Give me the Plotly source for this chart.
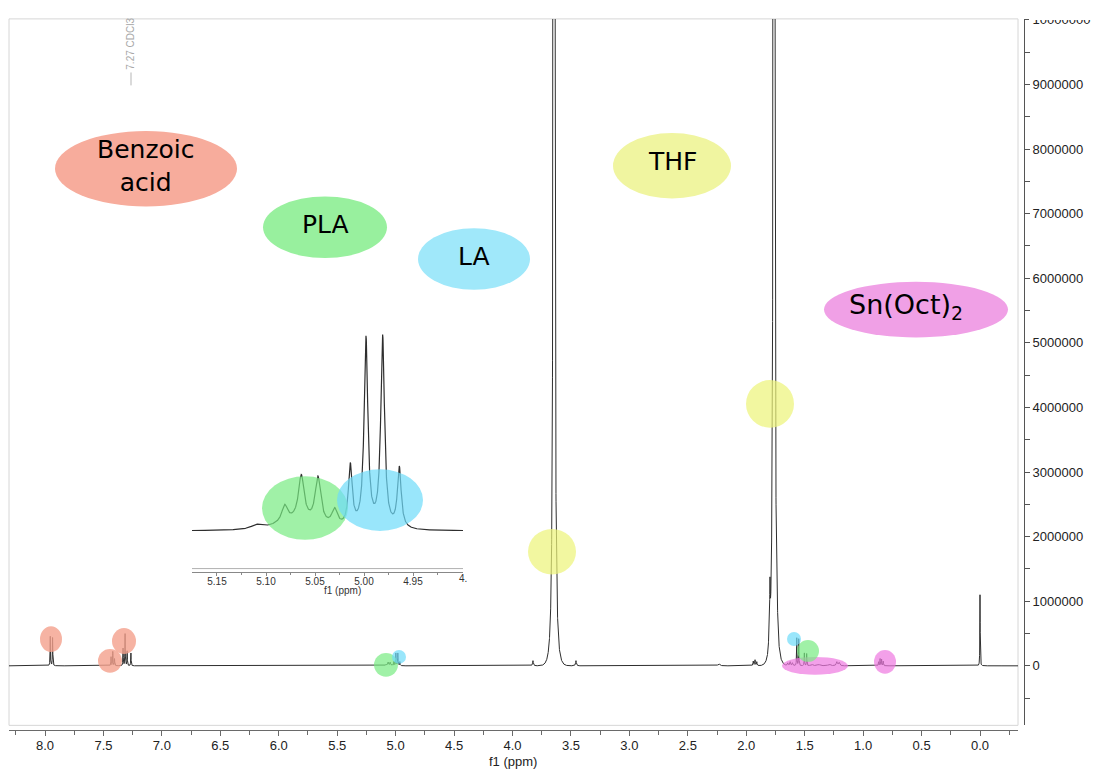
import numpy as np
import plotly.graph_objects as go

# ---------------- data ----------------
# peak centre (ppm), peak height (intensity units), half width at half height (ppm)
peak_ppm = [7.955, 7.935, 7.435, 7.420, 7.405, 7.332, 7.315, 7.297, 7.265,
            5.081, 5.064, 5.047, 5.030, 5.070, 5.110,
            5.014, 4.998, 4.981, 4.964,
            3.825, 3.645, 3.457,
            2.235, 1.940, 1.925, 1.910,
            1.805, 1.797, 1.763, 1.737,
            1.645, 1.625, 1.605, 1.568, 1.551, 1.503, 1.483,
            1.440, 1.380, 1.290, 1.225, 1.205,
            0.868, 0.855, 0.842, 0.828,
            0.000]
peak_height = [460000, 440000, 140000, 220000, 110000, 270000, 500000, 230000, 200000,
               17000, 46000, 48000, 17000, 9000, 4000,
               63000, 194000, 196000, 62000,
               80000, 40000000, 80000,
               30000, 70000, 90000, 60000,
               200000, 750000, 40000000, 550000,
               40000, 60000, 45000, 430000, 420000, 200000, 190000,
               25000, 20000, 25000, 60000, 50000,
               60000, 110000, 100000, 70000,
               1100000]
peak_hwhm = [0.0018, 0.0018, 0.0018, 0.0018, 0.0018, 0.0018, 0.0018, 0.0018, 0.0018,
             0.0035, 0.0035, 0.0035, 0.0035, 0.028, 0.006,
             0.0023, 0.0023, 0.0023, 0.0023,
             0.004, 0.0047, 0.004,
             0.01, 0.003, 0.003, 0.003,
             0.004, 0.0028, 0.0047, 0.0028,
             0.004, 0.004, 0.004, 0.0018, 0.0018, 0.0018, 0.0018,
             0.01, 0.015, 0.012, 0.006, 0.006,
             0.002, 0.002, 0.002, 0.002,
             0.0015]
ENVELOPE = 0.068  # gaussian damping of the line tails (ppm)

x_tick_vals = [8.0, 7.5, 7.0, 6.5, 6.0, 5.5, 5.0, 4.5, 4.0, 3.5, 3.0, 2.5, 2.0, 1.5, 1.0, 0.5, 0.0]
x_tick_text = ["8.0", "7.5", "7.0", "6.5", "6.0", "5.5", "5.0", "4.5", "4.0", "3.5",
               "3.0", "2.5", "2.0", "1.5", "1.0", "0.5", "0.0"]
x_minor_vals = [8.25, 7.75, 7.25, 6.75, 6.25, 5.75, 5.25, 4.75, 4.25, 3.75, 3.25,
                2.75, 2.25, 1.75, 1.25, 0.75, 0.25, -0.25]
y_tick_vals = [0, 1000000, 2000000, 3000000, 4000000, 5000000, 6000000, 7000000,
               8000000, 9000000, 10000000]
y_tick_text = ["0", "1000000", "2000000", "3000000", "4000000", "5000000", "6000000",
               "7000000", "8000000", "9000000", "10000000"]
y_minor_vals = [-500000, 500000, 1500000, 2500000, 3500000, 4500000, 5500000,
                6500000, 7500000, 8500000, 9500000]
inset_tick_vals = [5.15, 5.10, 5.05, 5.00, 4.95]
inset_tick_text = ["5.15", "5.10", "5.05", "5.00", "4.95"]
inset_minor_vals = [5.125, 5.075, 5.025, 4.975, 4.925]

# ---------------- helpers ----------------
W, H = 1097, 771


def px(x):
    return x / W


def py(y):
    return 1 - y / H


def spectrum(ppm):
    out = np.zeros_like(ppm)
    for c, h, w in zip(peak_ppm, peak_height, peak_hwhm):
        d = ppm - c
        out += h / (1 + (d / w) ** 2) * np.exp(-(d / ENVELOPE) ** 2)
    return out


ppm_main = np.arange(8.31, -0.33, -0.0004)
ppm_inset = np.arange(5.18, 4.895, -0.0001)

fig = go.Figure()
fig.add_trace(go.Scatter(x=ppm_main, y=spectrum(ppm_main), mode="lines",
                         line=dict(color="#2e2e2e", width=1), xaxis="x", yaxis="y",
                         hoverinfo="skip", showlegend=False))
fig.add_trace(go.Scatter(x=ppm_inset, y=spectrum(ppm_inset), mode="lines",
                         line=dict(color="#2e2e2e", width=1.2), xaxis="x2", yaxis="y2",
                         hoverinfo="skip", showlegend=False))

FONT = "Liberation Sans, Arial, sans-serif"
LABEL_FONT = "DejaVu Sans, Liberation Sans, sans-serif"

shapes = []
# light frame of the main spectrum window
shapes.append(dict(type="rect", xref="paper", yref="paper", x0=px(9), x1=px(1018),
                   y0=py(725), y1=py(13), line=dict(color="#d6d6d6", width=1), layer="below"))


def ellipse(cx, cy, rx, ry, color, layer="above"):
    shapes.append(dict(type="circle", xref="paper", yref="paper",
                       x0=px(cx - rx), x1=px(cx + rx), y0=py(cy + ry), y1=py(cy - ry),
                       fillcolor=color, line=dict(width=0), layer=layer))


SALMON = "rgba(244,160,140,0.8)"
GREEN = "rgba(120,235,130,0.7)"
BLUE = "rgba(110,220,250,0.7)"
YELLOW = "rgba(236,244,120,0.7)"
PINK = "rgba(238,120,224,0.7)"

# labelled ellipses
ellipse(146, 164, 91, 38, "rgb(247,172,156)", "below")
ellipse(325, 223, 62, 31, "rgb(152,240,158)", "below")
ellipse(474, 255, 56, 31, "rgb(160,232,250)", "below")
ellipse(672, 161, 59, 33, "rgb(240,245,160)", "below")
ellipse(916, 306, 92, 28, "rgb(240,160,230)", "below")

# highlight marks on the spectrum
ellipse(51, 638, 11, 13, SALMON)
ellipse(110, 660, 12, 12, SALMON)
ellipse(124, 640, 12, 13, SALMON)
ellipse(386, 664, 12, 12, GREEN)
ellipse(399, 656, 7, 7, BLUE)
ellipse(552, 550, 24, 23, YELLOW)
ellipse(770, 401, 24, 24, YELLOW)
ellipse(815, 665, 33, 9, PINK)
ellipse(808, 650, 11, 11, GREEN)
ellipse(794, 638, 7, 7, BLUE)
ellipse(885, 661, 11, 12, PINK)
# inset marks
ellipse(305, 506, 43, 32, GREEN)
ellipse(380, 498, 43, 31, BLUE)

# second (upper) line of the inset axis
shapes.append(dict(type="line", xref="paper", yref="paper", x0=px(192), x1=px(463),
                   y0=py(567), y1=py(567), line=dict(color="#b0b0b0", width=1)))
# solvent marker tick
shapes.append(dict(type="line", xref="paper", yref="paper", x0=px(131), x1=px(131),
                   y0=py(80), y1=py(67), line=dict(color="#b5b5b5", width=1)))
# cropped top of the highest intensity label
shapes.append(dict(type="rect", xref="paper", yref="paper", x0=px(1029), x1=1,
                   y0=py(14), y1=1, fillcolor="white", line=dict(width=0), layer="above"))

annotations = []


def label(x, y, text, size=25, color="black", font=LABEL_FONT, **kw):
    annotations.append(dict(x=px(x), y=py(y), xref="paper", yref="paper", text=text,
                            showarrow=False, font=dict(family=font, size=size, color=color),
                            xanchor=kw.pop("xanchor", "center"),
                            yanchor=kw.pop("yanchor", "middle"), **kw))


label(146, 161, "Benzoic<br>acid")
label(325, 220, "PLA")
label(474, 252, "LA")
label(672, 157, "THF")
label(906, 303, "Sn(Oct)<sub>2</sub>", size=27)
label(131, 38, "7.27 CDCl3", size=10, color="#a8a8a8", font=FONT, textangle=-90)
label(513, 761, "f1 (ppm)", size=13, color="#222", font=FONT)
label(342, 589, "f1 (ppm)", size=10, color="#333", font=FONT)
label(457, 577, "4.", size=10, color="#333", font=FONT, xanchor="left")

fig.update_layout(
    width=W, height=H,
    margin=dict(l=0, r=0, t=0, b=0),
    paper_bgcolor="white", plot_bgcolor="rgba(0,0,0,0)",
    showlegend=False,
    shapes=shapes, annotations=annotations,
    xaxis=dict(domain=[px(9), px(1018)], range=[8.308, -0.325], anchor="free",
               position=py(730), showline=True, linecolor="#6a6a6a", linewidth=1,
               ticks="outside", ticklen=5, tickcolor="#6a6a6a",
               tickvals=x_tick_vals, ticktext=x_tick_text, ticklabelstandoff=-2,
               tickfont=dict(family=FONT, size=13, color="#222"),
               minor=dict(tickvals=x_minor_vals, ticks="outside", ticklen=4,
                          tickcolor="#6a6a6a", showgrid=False),
               showgrid=False, zeroline=False),
    yaxis=dict(domain=[py(725), py(13)], range=[-921700, 10015000], anchor="free",
               position=px(1024), side="right", showline=True, linecolor="#555",
               linewidth=1, ticks="outside", ticklen=5, tickcolor="#555",
               tickvals=y_tick_vals, ticktext=y_tick_text,
               tickfont=dict(family=FONT, size=13, color="#222"),
               minor=dict(tickvals=y_minor_vals, ticks="outside", ticklen=5,
                          tickcolor="#555", showgrid=False),
               showgrid=False, zeroline=False),
    xaxis2=dict(domain=[px(192), px(463)], range=[5.1755, 4.899], anchor="y2",
                showline=True, linecolor="#888", linewidth=1,
                ticks="outside", ticklen=3, tickcolor="#888",
                tickvals=inset_tick_vals, ticktext=inset_tick_text, ticklabelstandoff=-3,
                tickfont=dict(family=FONT, size=10, color="#333"),
                minor=dict(tickvals=inset_minor_vals, ticks="outside", ticklen=2,
                           tickcolor="#888", showgrid=False),
                showgrid=False, zeroline=False),
    yaxis2=dict(domain=[py(570), py(325)], range=[-42000, 207000], anchor="x2",
                visible=False, showgrid=False, zeroline=False),
)

fig.write_html("out.html")
